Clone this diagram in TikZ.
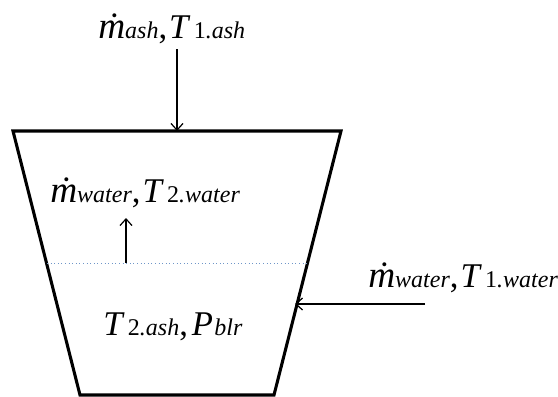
\documentclass[tikz,border=0pt]{standalone}
\usepackage{fontspec}
\setmainfont{Liberation Serif}
\usetikzlibrary{arrows.meta}
\definecolor{levelblue}{RGB}{110,150,200}
\newcommand\subtx[1]{{\fontsize{18}{20}\selectfont #1}}
\newcommand\mdot{{\fontsize{28}{30}\selectfont\itshape\.m}}
\newcommand\bigT{\textit{T}\hspace{2.5pt}}
\begin{document}
\begin{tikzpicture}[x=0.75pt,y=-0.75pt,
  vessel/.style={line width=2.3pt,line join=miter},
  flow/.style={line width=0.9pt,-{Straight Barb[length=5pt,width=9pt]}},
  level/.style={dotted,line width=0.7pt,color=levelblue},
  lbl/.style={anchor=base west,inner sep=0pt,font=\fontsize{26}{28}\selectfont}]
\useasboundingbox (0,0) rectangle (558,397);
\coordinate (tl) at (13,131);
\coordinate (tr) at (341,131);
\coordinate (br) at (274,395);
\coordinate (bl) at (80,395);
\draw[vessel] (tl) -- (tr) -- (br) -- (bl) -- cycle;
% water level
\coordinate (lvl) at (47,263);
\coordinate (lvr) at (307,263);
\draw[level] (lvl) -- (lvr);
% labels
\node[lbl] (top) at (98,38) {\mdot\subtx{\itshape ash},\hspace{1.5pt}\bigT\subtx{1\itshape .ash}};
\node[lbl] (wat) at (50,202) {\mdot\subtx{\itshape water},\hspace{1.5pt}\bigT\subtx{2\itshape .water}};
\node[lbl] (inl) at (368,287) {\mdot\subtx{\itshape water},\hspace{1.5pt}\bigT\subtx{1\itshape .water}};
\node[lbl] (bot) at (103,335) {\bigT\subtx{2\itshape .ash},\hspace{3pt}\textit{P}\hspace{1pt}\subtx{\itshape blr}};
% arrows
\coordinate (a1s) at (177,49);
\coordinate (a1e) at (177,131);
\draw[flow] (a1s) -- (a1e);
\coordinate (a2s) at (126,263);
\coordinate (a2e) at (126,218);
\draw[flow] (a2s) -- (a2e);
\coordinate (a3s) at (425,304);
\coordinate (a3e) at (295,304);
\draw[flow] (a3s) -- (a3e);
\end{tikzpicture}
\end{document}
